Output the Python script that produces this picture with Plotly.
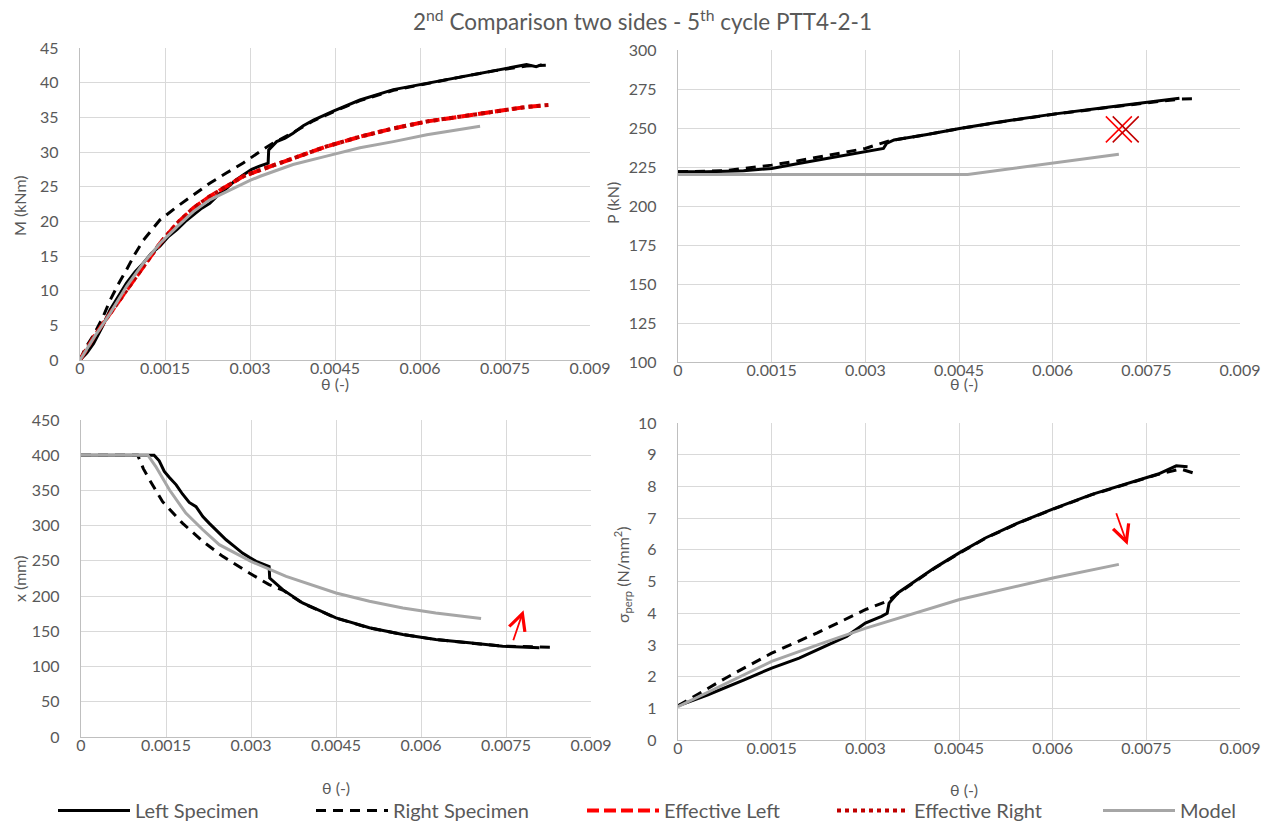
import plotly.graph_objects as go

# ---------------- DATA ----------------
theta_ticks = [0, 0.0015, 0.003, 0.0045, 0.006, 0.0075, 0.009]
theta_ticktext = ["0", "0.0015", "0.003", "0.0045", "0.006", "0.0075", "0.009"]

# Panel 1: M (kNm)
m_left_theta = [0, 0.00012, 0.00024, 0.0004, 0.00053, 0.00068, 0.00082, 0.00097, 0.00112, 0.00126, 0.00141, 0.00156,
                0.00171, 0.00186, 0.002, 0.00215, 0.00229, 0.00244, 0.00259, 0.00274, 0.00288, 0.00303, 0.00318,
                0.00332, 0.00333, 0.00347, 0.00362, 0.00376, 0.00394, 0.00412, 0.00447, 0.00494, 0.00553, 0.00612,
                0.00671, 0.0073, 0.00788, 0.00805, 0.00815]
m_left_val = [0, 1.0, 2.4, 4.9, 7.2, 9.3, 11.1, 12.7, 14.0, 15.4, 16.4, 17.8,
              18.8, 20.0, 20.9, 21.9, 22.6, 23.8, 24.8, 25.9, 26.7, 27.5, 28.0,
              28.4, 30.3, 31.5, 32.0, 32.7, 33.8, 34.6, 35.9, 37.5, 39.0, 39.9,
              40.9, 41.8, 42.6, 42.3, 42.6]
m_right_theta = [0, 0.0001, 0.00024, 0.0004, 0.00053, 0.00068, 0.00082, 0.00097, 0.00112, 0.00141, 0.00171, 0.002,
                 0.00229, 0.00259, 0.00288, 0.00318, 0.00341, 0.00376, 0.00412, 0.00447, 0.00494, 0.00553, 0.00612,
                 0.00671, 0.0073, 0.00788, 0.00822]
m_right_val = [0, 1.8, 3.6, 6.1, 8.6, 11.0, 13.0, 15.3, 17.3, 20.2, 22.1, 23.8,
               25.5, 27.0, 28.4, 30.1, 31.3, 32.8, 34.5, 35.8, 37.4, 38.9, 39.9,
               40.8, 41.7, 42.4, 42.5]
m_effl_theta = [0, 0.00025, 0.00053, 0.00075, 0.001, 0.0012, 0.00141, 0.00171, 0.002, 0.00229, 0.00259, 0.00288,
                0.00318, 0.00376, 0.00435, 0.00494, 0.00553, 0.00612, 0.00671, 0.0073, 0.00788, 0.0082]
m_effl_val = [0, 3.4, 6.7, 9.2, 12.0, 14.5, 16.8, 19.7, 21.9, 23.6, 25.0, 26.5,
              27.4, 29.1, 30.8, 32.2, 33.4, 34.4, 35.1, 35.9, 36.5, 36.7]
m_effr_theta = [0, 0.00025, 0.00053, 0.00075, 0.001, 0.0012, 0.00141, 0.00171, 0.002, 0.00229, 0.00259, 0.00288,
                0.00318, 0.00376, 0.00435, 0.00494, 0.00553, 0.00612, 0.00671, 0.0073, 0.00788, 0.0083]
m_effr_val = [0, 3.4, 6.7, 9.2, 12.0, 14.5, 16.8, 19.7, 21.9, 23.6, 25.0, 26.5,
              27.4, 29.1, 30.8, 32.2, 33.4, 34.4, 35.1, 35.9, 36.5, 36.8]
m_model_theta = [0, 0.00025, 0.00053, 0.00082, 0.00112, 0.00141, 0.00171, 0.002, 0.00229, 0.00259, 0.003, 0.00318,
                 0.00376, 0.00435, 0.00494, 0.00553, 0.00612, 0.00706]
m_model_val = [0, 3.3, 6.7, 10.6, 14.0, 16.8, 19.2, 21.4, 23.1, 24.3, 25.9, 26.5,
               28.2, 29.4, 30.6, 31.5, 32.5, 33.7]

# Panel 2: P (kN)
p_left_theta = [0, 0.00046, 0.00105, 0.0015, 0.00193, 0.00252, 0.003, 0.00329, 0.00334, 0.00346, 0.00399, 0.00451,
                0.00517, 0.00601, 0.00694, 0.0075, 0.00803]
p_left_val = [221.9, 221.9, 222.6, 224.1, 227.3, 231.6, 235.2, 236.9, 240.1, 242.3, 245.9, 249.7,
              254.0, 258.9, 263.6, 266.2, 269.0]
p_right_theta = [0, 0.00075, 0.00105, 0.0015, 0.00193, 0.00252, 0.003, 0.00317, 0.0034, 0.00399, 0.00451, 0.00517,
                 0.00601, 0.00694, 0.0075, 0.00805, 0.00829]
p_right_val = [221.9, 222.6, 224.1, 226.2, 229.0, 233.1, 236.9, 239.1, 241.9, 245.8, 249.6, 253.9,
               258.8, 263.4, 266.0, 268.6, 268.7]
p_model_theta = [0, 0.00464, 0.00706]
p_model_val = [220.2, 220.2, 233.1]
p_effl_theta = [0.00706]
p_effl_val = [249.1]
p_effr_theta = [0.00717]
p_effr_val = [249.1]

# Panel 3: x (mm)
x_left_theta = [0, 0.00129, 0.00138, 0.00147, 0.00156, 0.00168, 0.00179, 0.00191, 0.00203, 0.00215, 0.00226, 0.00241,
                0.00256, 0.0027, 0.00285, 0.00297, 0.00309, 0.00332, 0.00333, 0.00356, 0.00391, 0.0045, 0.00509,
                0.00568, 0.00626, 0.00685, 0.00744, 0.00809]
x_left_val = [400, 400, 392, 377, 368.5, 358, 345, 333, 327, 313, 303.6, 292,
              280, 271, 261, 255, 249.4, 242, 225.7, 209.2, 190.3, 169, 155,
              145.6, 138.4, 133.7, 129, 126.6]
x_right_theta = [0, 0.001, 0.0011, 0.00121, 0.00144, 0.00179, 0.00215, 0.0025, 0.00297, 0.00332, 0.00356, 0.00391,
                 0.0045, 0.00509, 0.00568, 0.00626, 0.00685, 0.00744, 0.0083]
x_right_val = [400, 400, 381, 365, 334, 303.6, 277.7, 256.4, 232.8, 216.3, 208.5, 190.0,
               168.8, 154.8, 145.5, 138.3, 133.6, 128.9, 127.5]
x_model_theta = [0, 0.00118, 0.00132, 0.00156, 0.00185, 0.00215, 0.00244, 0.003, 0.00362, 0.0045, 0.00509, 0.00568,
                 0.00626, 0.00706]
x_model_val = [400, 400, 383.9, 350.9, 317.8, 294.2, 273, 249.3, 228, 204.5, 192.7, 183.2,
               176.1, 168.1]

# Panel 4: sigma_perp (N/mm2)
s_left_theta = [0, 0.00047, 0.00106, 0.0015, 0.00194, 0.00235, 0.0027, 0.003, 0.00326, 0.00335, 0.00338, 0.00352,
                0.00376, 0.00411, 0.00451, 0.00493, 0.00546, 0.00602, 0.00663, 0.00722, 0.00769, 0.00798, 0.00816]
s_left_val = [1.08, 1.42, 1.9, 2.27, 2.58, 2.95, 3.27, 3.69, 3.9, 4.0, 4.32, 4.64,
              4.96, 5.43, 5.91, 6.38, 6.86, 7.3, 7.75, 8.12, 8.39, 8.65, 8.62]
s_right_theta = [0, 0.00047, 0.00076, 0.0015, 0.00223, 0.003, 0.00335, 0.00352, 0.00376, 0.00411, 0.00451, 0.00493,
                 0.00546, 0.00602, 0.00663, 0.00722, 0.00769, 0.00805, 0.00831]
s_right_val = [1.08, 1.63, 1.95, 2.74, 3.38, 4.11, 4.38, 4.62, 4.95, 5.42, 5.9, 6.37,
               6.85, 7.29, 7.74, 8.1, 8.38, 8.55, 8.39]
s_model_theta = [0, 0.0015, 0.00235, 0.00301, 0.00451, 0.00602, 0.00706]
s_model_val = [1.05, 2.48, 3.08, 3.53, 4.43, 5.12, 5.54]

# Red arrows (tail -> tip) in data units
x_arrow_tail = (0.00762, 135.3)
x_arrow_tip = (0.00781, 180.0)
s_arrow_tail = (0.00701, 7.2)
s_arrow_tip = (0.0072, 6.15)

legend_names = ["Left Specimen", "Right Specimen", "Effective Left", "Effective Right", "Model"]

# ---------------- STYLE ----------------
FONT = "Lato"
TXT = "#595959"
GRID = "#D9D9D9"
AXLINE = "#BFBFBF"

st_left = dict(color="black", width=3)
st_right = dict(color="black", width=3, dash="10px,7px")
st_effl = dict(color="#FF0000", width=4, dash="12px,5px")
st_effr = dict(color="#C00000", width=4, dash="dot")
st_model = dict(color="#A6A6A6", width=3)

legend_ids = ["legend", "legend2", "legend3", "legend4", "legend5"]

fig = go.Figure()

def add(xs, ys, line, idx, xa, ya, show):
    fig.add_trace(go.Scatter(x=xs, y=ys, mode="lines", line=line, name=legend_names[idx], xaxis=xa, yaxis=ya,
                             showlegend=show, legendgroup=legend_names[idx], legend=legend_ids[idx],
                             hoverinfo="skip"))

# panel 1
add(m_left_theta, m_left_val, st_left, 0, "x", "y", True)
add(m_right_theta, m_right_val, st_right, 1, "x", "y", True)
add(m_effl_theta, m_effl_val, st_effl, 2, "x", "y", True)
add(m_effr_theta, m_effr_val, st_effr, 3, "x", "y", True)
add(m_model_theta, m_model_val, st_model, 4, "x", "y", True)
# panel 2
add(p_left_theta, p_left_val, st_left, 0, "x2", "y2", False)
add(p_right_theta, p_right_val, st_right, 1, "x2", "y2", False)
fig.add_trace(go.Scatter(x=p_effl_theta, y=p_effl_val, mode="markers", xaxis="x2", yaxis="y2", showlegend=False,
                         marker=dict(symbol="x-thin", size=26, line=dict(color="#FF0000", width=1.5)), hoverinfo="skip"))
fig.add_trace(go.Scatter(x=p_effr_theta, y=p_effr_val, mode="markers", xaxis="x2", yaxis="y2", showlegend=False,
                         marker=dict(symbol="x-thin", size=26, line=dict(color="#C00000", width=1.5)), hoverinfo="skip"))
add(p_model_theta, p_model_val, st_model, 4, "x2", "y2", False)
# panel 3
add(x_left_theta, x_left_val, st_left, 0, "x3", "y3", False)
add(x_right_theta, x_right_val, st_right, 1, "x3", "y3", False)
add(x_model_theta, x_model_val, st_model, 4, "x3", "y3", False)
# panel 4
add(s_left_theta, s_left_val, st_left, 0, "x4", "y4", False)
add(s_right_theta, s_right_val, st_right, 1, "x4", "y4", False)
add(s_model_theta, s_model_val, st_model, 4, "x4", "y4", False)

# page offset of the plot div (browser body margin)
OFF = 8
W, H = 1281 - OFF, 825 - OFF
def fx(p):
    return (p - OFF) / W
def fy(p):
    return 1 - (p - OFF) / H
def px_x(a, b):
    return [fx(a), fx(b)]
def px_y(top, bottom):
    return [fy(bottom), fy(top)]

tickfont = dict(family=FONT, size=16, color=TXT)
xcommon = dict(range=[0, 0.009], tickvals=theta_ticks, ticktext=theta_ticktext, showgrid=True, gridcolor=GRID,
               gridwidth=1.3, showline=True, linecolor=AXLINE, linewidth=1.3, zeroline=False, tickfont=tickfont,
               ticks="", ticklabelstandoff=-6, fixedrange=True, automargin=False)
ycommon = dict(showgrid=True, gridcolor=GRID, gridwidth=1.3, showline=True, linecolor=AXLINE, linewidth=1.3,
               zeroline=False, tickfont=tickfont, ticks="", ticklabelstandoff=17, fixedrange=True, automargin=False)

legend_text_x = [135, 393, 664, 914, 1180]
legends = {}
for lid, tx in zip(legend_ids, legend_text_x):
    legends[lid] = dict(orientation="h", x=fx(tx - 82), xanchor="left", y=-5 / H, yanchor="bottom", itemwidth=72,
                        font=dict(family=FONT, size=20, color=TXT), bgcolor="rgba(0,0,0,0)")

fig.update_layout(
    width=W, height=H,
    margin=dict(l=0, r=0, t=0, b=0, autoexpand=False),
    paper_bgcolor="white", plot_bgcolor="white",
    font=dict(family=FONT, color=TXT),
    xaxis=dict(domain=px_x(80, 590), anchor="y", **xcommon),
    yaxis=dict(domain=px_y(48, 360), anchor="x", range=[0, 45], dtick=5, **ycommon),
    xaxis2=dict(domain=px_x(678, 1240), anchor="y2", **xcommon),
    yaxis2=dict(domain=px_y(50, 362), anchor="x2", range=[100, 300], dtick=25, **ycommon),
    xaxis3=dict(domain=px_x(81, 591), anchor="y3", **xcommon),
    yaxis3=dict(domain=px_y(420, 737), anchor="x3", range=[0, 450], dtick=50, **ycommon),
    xaxis4=dict(domain=px_x(678, 1240), anchor="y4", **xcommon),
    yaxis4=dict(domain=px_y(423, 740), anchor="x4", range=[0, 10], dtick=1, **ycommon),
    showlegend=True,
    **legends,
)

ann = []
ann.append(dict(text="2<sup>nd</sup> Comparison two sides - 5<sup>th</sup> cycle PTT4-2-1", xref="paper", yref="paper",
                x=fx(642), y=fy(20), xanchor="center", yanchor="middle", showarrow=False,
                font=dict(family=FONT, size=22.5, color=TXT)))
for (xc, yc) in [(335, 384), (964, 383), (336, 787), (964, 789)]:
    ann.append(dict(text="θ (-)", xref="paper", yref="paper", x=fx(xc), y=fy(yc), xanchor="center",
                    yanchor="middle", showarrow=False, font=dict(family=FONT, size=16, color=TXT)))
for (txt, xc, yc) in [("M (kNm)", 19, 206), ("P (kN)", 612, 203), ("x (mm)", 19, 578),
                      ("σ<sub>perp</sub> (N/mm<sup>2</sup>)", 622, 575)]:
    ann.append(dict(text=txt, xref="paper", yref="paper", x=fx(xc), y=fy(yc), xanchor="center",
                    yanchor="middle", textangle=-90, showarrow=False, font=dict(family=FONT, size=16, color=TXT)))
ann.append(dict(x=x_arrow_tip[0], y=x_arrow_tip[1], ax=x_arrow_tail[0], ay=x_arrow_tail[1], xref="x3", yref="y3",
                axref="x3", ayref="y3", showarrow=True, arrowhead=5, arrowsize=1.8, arrowwidth=1.8,
                arrowcolor="#FF0000", text=""))
ann.append(dict(x=s_arrow_tip[0], y=s_arrow_tip[1], ax=s_arrow_tail[0], ay=s_arrow_tail[1], xref="x4", yref="y4",
                axref="x4", ayref="y4", showarrow=True, arrowhead=5, arrowsize=1.8, arrowwidth=1.8,
                arrowcolor="#FF0000", text=""))
fig.update_layout(annotations=ann)

fig.write_html("out.html")
